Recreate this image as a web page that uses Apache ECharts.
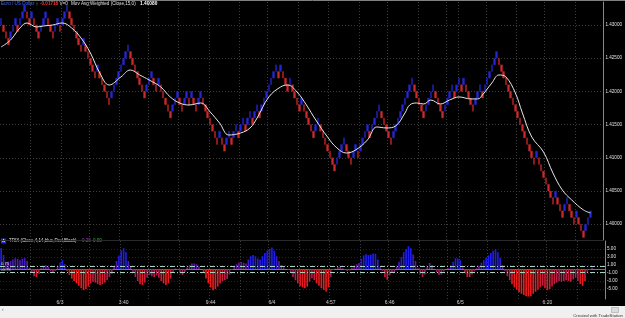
<!DOCTYPE html>
<html><head><meta charset="utf-8">
<script src="https://cdn.jsdelivr.net/npm/echarts@6/dist/echarts.min.js"></script>
<style>html,body{margin:0;padding:0;background:#000;overflow:hidden}#c{width:625px;height:318px}</style>
</head><body><div id="c"></div>
<script>
// ---------- data ----------
const brickSize = 0.001;
const brickStart = 1.430;
const brickClose = [
1.431,1.429,1.428,1.427,1.429,1.430,1.431,1.429,1.431,1.432,
1.433,1.431,1.430,1.432,1.430,1.429,1.428,1.430,1.431,1.432,
1.430,1.429,1.428,1.430,1.431,1.429,1.431,1.432,1.433,1.431,
1.430,1.429,1.428,1.427,1.426,1.428,1.426,1.425,1.424,1.423,
1.422,1.424,1.422,1.421,1.420,1.419,1.418,1.420,1.421,1.422,
1.423,1.424,1.425,1.426,1.427,1.425,1.424,1.423,1.422,1.421,
1.420,1.419,1.421,1.422,1.423,1.421,1.420,1.422,1.420,1.419,
1.418,1.417,1.416,1.418,1.419,1.420,1.418,1.417,1.419,1.420,
1.418,1.420,1.418,1.417,1.419,1.420,1.418,1.417,1.416,1.415,
1.414,1.413,1.412,1.414,1.412,1.411,1.413,1.414,1.412,1.414,
1.415,1.413,1.415,1.416,1.414,1.416,1.417,1.415,1.417,1.418,
1.416,1.418,1.419,1.420,1.421,1.422,1.423,1.424,1.422,1.424,
1.422,1.421,1.420,1.422,1.420,1.419,1.418,1.417,1.419,1.417,
1.416,1.415,1.414,1.413,1.415,1.416,1.414,1.413,1.412,1.411,
1.410,1.409,1.408,1.410,1.411,1.412,1.413,1.411,1.410,1.409,
1.411,1.412,1.410,1.412,1.413,1.414,1.415,1.413,1.415,1.416,
1.417,1.418,1.416,1.415,1.414,1.413,1.412,1.414,1.415,1.416,
1.417,1.418,1.419,1.420,1.421,1.422,1.420,1.419,1.418,1.417,
1.416,1.418,1.419,1.420,1.421,1.419,1.418,1.417,1.416,1.418,
1.419,1.420,1.421,1.419,1.421,1.422,1.420,1.422,1.420,1.419,
1.418,1.417,1.419,1.420,1.421,1.419,1.421,1.422,1.423,1.424,
1.425,1.426,1.424,1.423,1.422,1.421,1.420,1.419,1.418,1.417,
1.416,1.415,1.414,1.413,1.412,1.411,1.410,1.409,1.411,1.409,
1.408,1.407,1.406,1.405,1.404,1.403,1.405,1.403,1.402,1.401,
1.403,1.404,1.402,1.401,1.400,1.402,1.400,1.399,1.398,1.400,
1.401,1.402
];
const maSlot = [0,4,8,11,15,18,22,26,30,34,38,42,46,51,55,59,63,68,72,76,80,85,89,93,97,102,106,109,114,119,122,126,130,134,139,143,147,151,156,160,164,168,172,174,177,180,183,187,191,195,200,203,205,209,212,215,219,222,226,231,235,239,243,248,251];
const maValue = [1.42669,1.42774,1.42955,1.43030,1.42970,1.42985,1.43000,1.43030,1.42955,1.42804,1.42578,1.42277,1.42096,1.42217,1.42322,1.42247,1.42172,1.42066,1.41916,1.41825,1.41795,1.41825,1.41690,1.41524,1.41343,1.41373,1.41449,1.41599,1.41916,1.42066,1.42096,1.41991,1.41795,1.41569,1.41313,1.41148,1.41072,1.41118,1.41268,1.41464,1.41449,1.41479,1.41675,1.41795,1.41825,1.41810,1.41870,1.41810,1.41870,1.41916,1.41886,1.41886,1.41946,1.42127,1.42247,1.42217,1.41976,1.41675,1.41313,1.41087,1.40771,1.40515,1.40365,1.40214,1.40169];
const trixValue = [
5.2,3.5,1.8,1.8,2.0,2.4,2.7,2.5,2.2,2.6,2.7,2.0,0.3,-1.0,-1.8,-2.0,-1.2,0.2,0.8,1.0,
0.6,-0.6,-1.0,-0.5,0.8,1.6,2.2,1.2,-0.5,-1.5,-2.4,-3.0,-3.6,-4.2,-4.8,-5.3,-5.0,-4.4,-3.6,-3.2,
-3.4,-3.8,-4.0,-3.8,-3.4,-2.8,-2.0,-1.2,0.6,2.0,3.4,4.6,5.2,4.2,2.0,0.6,-0.8,-2.0,-3.0,-3.8,
-4.0,-3.4,-2.2,-1.5,-1.8,-2.0,-1.6,-2.2,-3.0,-3.6,-4.0,-3.6,-2.4,-0.8,0.1,-0.2,-1.0,-1.5,-0.8,0.4,
1.0,1.4,1.4,1.2,0.6,0.0,-1.0,-2.4,-3.6,-4.6,-5.3,-5.0,-4.4,-3.6,-3.0,-2.8,-2.5,-1.4,-0.2,0.6,
1.2,1.6,1.8,1.6,1.4,2.4,3.2,3.5,3.2,2.6,2.4,3.2,4.0,4.6,5.0,5.4,4.6,3.2,2.0,1.0,
0.4,0.0,-0.2,-1.0,-2.0,-2.8,-3.6,-4.3,-4.6,-4.8,-4.4,-3.2,-2.3,-2.8,-3.6,-4.2,-4.8,-5.2,-5.6,-4.6,
-2.0,-0.2,0.1,0.5,0.6,0.2,-0.2,-0.5,-0.4,0.3,0.8,1.2,1.5,2.6,3.4,3.7,3.5,3.6,3.9,3.8,
2.4,0.4,-0.5,-2.0,-2.7,-1.6,-1.0,-0.8,0.6,1.8,3.0,4.2,5.0,5.7,5.2,3.6,2.0,0.2,-1.2,-2.0,
-1.4,0.6,1.5,1.0,0.0,-0.8,-1.5,-1.4,-0.6,0.0,0.2,0.8,1.8,2.7,2.6,2.2,0.4,-1.0,-2.0,-2.0,
-1.4,-0.6,0.2,0.8,1.6,2.2,2.8,3.4,4.0,4.6,4.9,4.2,2.8,1.0,-0.5,-1.8,-2.8,-3.8,-4.6,-5.2,
-5.8,-6.2,-6.5,-6.8,-6.9,-6.8,-6.2,-5.7,-5.2,-4.6,-4.2,-4.8,-5.3,-5.0,-4.4,-3.8,-3.4,-3.0,-3.2,-3.0,
-2.8,-3.0,-3.2,-2.6,-2.2,-3.0,-3.8,-4.2,-3.0,-1.0,-0.2,0.3
];
const timeLabels = ['6/3','3:40','9:44','6/4','4:57','6:46','6/5','6:20'];
const timeLabelSlot = [25,52,89,115,140,165,195,232];
const vGridSlot = [13,26,38,51,63,76,89,102,114,127,140,153,165,178,190,195,207,220,232,245];
const priceTicks = [1.430,1.425,1.420,1.415,1.410,1.405,1.400];
const trixTicks = [5,3,1,-1,-3,-5];
const trixBands = [0.75,-0.75];
const lastPriceTag = 1.40052;
const trixTag = 0.28;

// ---------- build tables ----------
const SLOTS = 257;
const cats = Array.from({length: SLOTS}, (_, i) => {
  const k = timeLabelSlot.indexOf(i); return k >= 0 ? timeLabels[k] : '';
});
const candle = brickClose.map((c, i) => {
  const prev = i === 0 ? brickStart : brickClose[i - 1];
  const dir = c >= prev ? 1 : -1;
  const o = +(c - dir * brickSize).toFixed(5);
  return [o, c, Math.min(o, c), Math.max(o, c)];
});
const maData = maSlot.map((s, i) => [s, maValue[i]]);
function trixColor(i) {
  let m = 0;
  for (let k = Math.max(0, i - 13); k <= i; k++) m = Math.max(m, Math.abs(trixValue[k]));
  const t = m ? trixValue[i] / m : 0;
  const r = Math.round(128 - 115 * t), b = Math.round(128 + 115 * t);
  return `rgb(${Math.max(30, Math.min(235, r))},28,${Math.max(28, Math.min(238, b))})`;
}
const trixData = trixValue.map((v, i) => ({value: v, itemStyle: {color: trixColor(i)}}));

const F = '"Liberation Sans", Arial, sans-serif';
const gridLine = {color: '#3c3c3c', type: [1, 2], width: 1};
const chart = echarts.init(document.getElementById('c'), null, {renderer: 'canvas'});
chart.setOption({
  backgroundColor: '#000',
  animation: false,
  textStyle: {fontFamily: F},
  grid: [
    {left: 0, right: 20, top: 2, height: 238},
    {left: 0, right: 20, top: 241, height: 58}
  ],
  xAxis: [
    {gridIndex: 0, type: 'category', data: cats, boundaryGap: true,
     axisLine: {show: true, lineStyle: {color: '#2a2a2a', width: 1}}, axisTick: {show: false}, axisLabel: {show: false},
     splitLine: {show: true, interval: (i) => vGridSlot.includes(i), lineStyle: gridLine}},
    {gridIndex: 1, type: 'category', data: cats, boundaryGap: true,
     axisLine: {show: true, lineStyle: {color: '#777', width: 1}}, axisTick: {show: false},
     axisLabel: {show: true, interval: (i) => timeLabelSlot.includes(i), color: '#d0d0d0', fontSize: 5, margin: 1.5, fontFamily: F},
     splitLine: {show: true, interval: (i) => vGridSlot.includes(i), lineStyle: gridLine}}
  ],
  yAxis: [
    {gridIndex: 0, type: 'value', position: 'right', min: 1.397617, max: 1.43346, scale: true,
     axisLine: {show: true, lineStyle: {color: '#888', width: 1}},
     axisTick: {show: false, customValues: priceTicks},
     axisLabel: {customValues: priceTicks, formatter: (v) => v.toFixed(5), color: '#e0e0e0', fontSize: 4.6, margin: 2, fontFamily: F},
     splitLine: {show: true, lineStyle: gridLine}},
    {gridIndex: 1, type: 'value', position: 'right', min: -7.5, max: 7,
     axisLine: {show: true, lineStyle: {color: '#888', width: 1}},
     axisTick: {show: false, customValues: trixTicks},
     axisLabel: {customValues: trixTicks, formatter: (v) => v.toFixed(2), color: '#e0e0e0', fontSize: 4.6, margin: 2, fontFamily: F},
     splitLine: {show: true, lineStyle: {color: '#262626', type: [1, 2], width: 1}}}
  ],
  series: [
    {type: 'candlestick', xAxisIndex: 0, yAxisIndex: 0, data: candle, barWidth: 2.1,
     itemStyle: {color: '#2626d6', color0: '#cc2a2c', borderColor: '#2222c8', borderColor0: '#c02426', borderWidth: 0.4},
     markLine: {silent: true, symbol: 'none', data: [{yAxis: lastPriceTag}], lineStyle: {opacity: 0},
       label: {position: 'end', formatter: () => lastPriceTag.toFixed(5), backgroundColor: '#ffff30', color: '#000', fontSize: 4.6, padding: [1, 2, 0, 2], distance: 0.5, fontFamily: F}}},
    {type: 'line', xAxisIndex: 0, yAxisIndex: 0, data: maData, smooth: 0.4, showSymbol: false,
     lineStyle: {color: '#e8e8e8', width: 1}},
    {type: 'bar', xAxisIndex: 1, yAxisIndex: 1, data: trixData, barCategoryGap: '30%',
     markLine: {silent: true, symbol: 'none',
       data: [
         {yAxis: trixBands[0], lineStyle: {color: '#a8d0c0', type: [5, 2, 1, 2], width: 1}, label: {show: true, position: 'insideStartTop', formatter: '0.75', color: '#d0d0d0', fontSize: 4.2, distance: [1, 0.5]}},
         {yAxis: trixBands[1], lineStyle: {color: '#a8d0c0', type: [5, 2, 1, 2], width: 1}, label: {show: true, position: 'insideStartTop', formatter: '-0.75', color: '#d0d0d0', fontSize: 4.2, distance: [1, 0.5]}},
         {yAxis: trixTag, lineStyle: {opacity: 0}, label: {show: true, position: 'end', formatter: trixTag.toFixed(2), backgroundColor: '#a01ca8', color: '#fff', fontSize: 4.6, padding: [1, 7, 0, 3], distance: 0.5}}
       ]}}
  ],
  graphic: [
    {type: 'line', shape: {x1: 0, y1: 0.5, x2: 625, y2: 0.5}, style: {stroke: '#808080', lineWidth: 1}},
    {type: 'text', x: 1, y: 4, style: {text: 'Euro / US Dollar', fill: '#4466ff', font: '4.6px ' + F, textVerticalAlign: 'middle'}},
    {type: 'text', x: 35.5, y: 4, style: {text: '\u2191', fill: '#22cc22', font: 'bold 6px ' + F, textVerticalAlign: 'middle'}},
    {type: 'text', x: 40, y: 4, style: {text: '-0.01718', fill: '#ff3838', font: 'bold 4.6px ' + F, textVerticalAlign: 'middle'}},
    {type: 'text', x: 59.5, y: 4, style: {text: 'V=0', fill: '#e0e0e0', font: '4.6px ' + F, textVerticalAlign: 'middle'}},
    {type: 'text', x: 71, y: 4, style: {text: 'Mov Avg Weighted (Close,15,0)', fill: '#e0e0e0', font: '4.6px ' + F, textVerticalAlign: 'middle'}},
    {type: 'text', x: 140, y: 4, style: {text: '1.40080', fill: '#ffffff', font: 'bold 4.8px ' + F, textVerticalAlign: 'middle'}},
    {type: 'rect', shape: {x: 1, y: 238.5, width: 5, height: 5}, style: {fill: '#2030d8'}},
    {type: 'text', x: 2.2, y: 241, style: {text: 'A', fill: '#fff', font: '4px ' + F, textVerticalAlign: 'middle'}},
    {type: 'text', x: 9, y: 241, style: {text: 'TRIX (Close,4,14,blue,Red,Black)', fill: '#e0e0e0', font: '4.5px ' + F, textVerticalAlign: 'middle'}},
    {type: 'text', x: 82, y: 241, style: {text: '0.28', fill: '#b040c8', font: '4.5px ' + F, textVerticalAlign: 'middle'}},
    {type: 'text', x: 93, y: 241, style: {text: '0.00', fill: '#30c030', font: '4.5px ' + F, textVerticalAlign: 'middle'}},
    {type: 'rect', shape: {x: 0, y: 306, width: 625, height: 12}, style: {fill: '#f0f0f0'}},
    {type: 'rect', shape: {x: 611.5, y: 307.5, width: 7, height: 5}, style: {fill: '#dcdcdc', stroke: '#9a9a9a', lineWidth: 0.5}},
    {type: 'text', x: 2, y: 309.5, style: {text: '\u2039', fill: '#666', font: '5px ' + F, textVerticalAlign: 'middle'}},
    {type: 'text', x: 623, y: 315.5, style: {text: 'Created with TradeStation', fill: '#333', font: '4.3px ' + F, textAlign: 'right', textVerticalAlign: 'middle'}}
  ]
});
</script></body></html>
